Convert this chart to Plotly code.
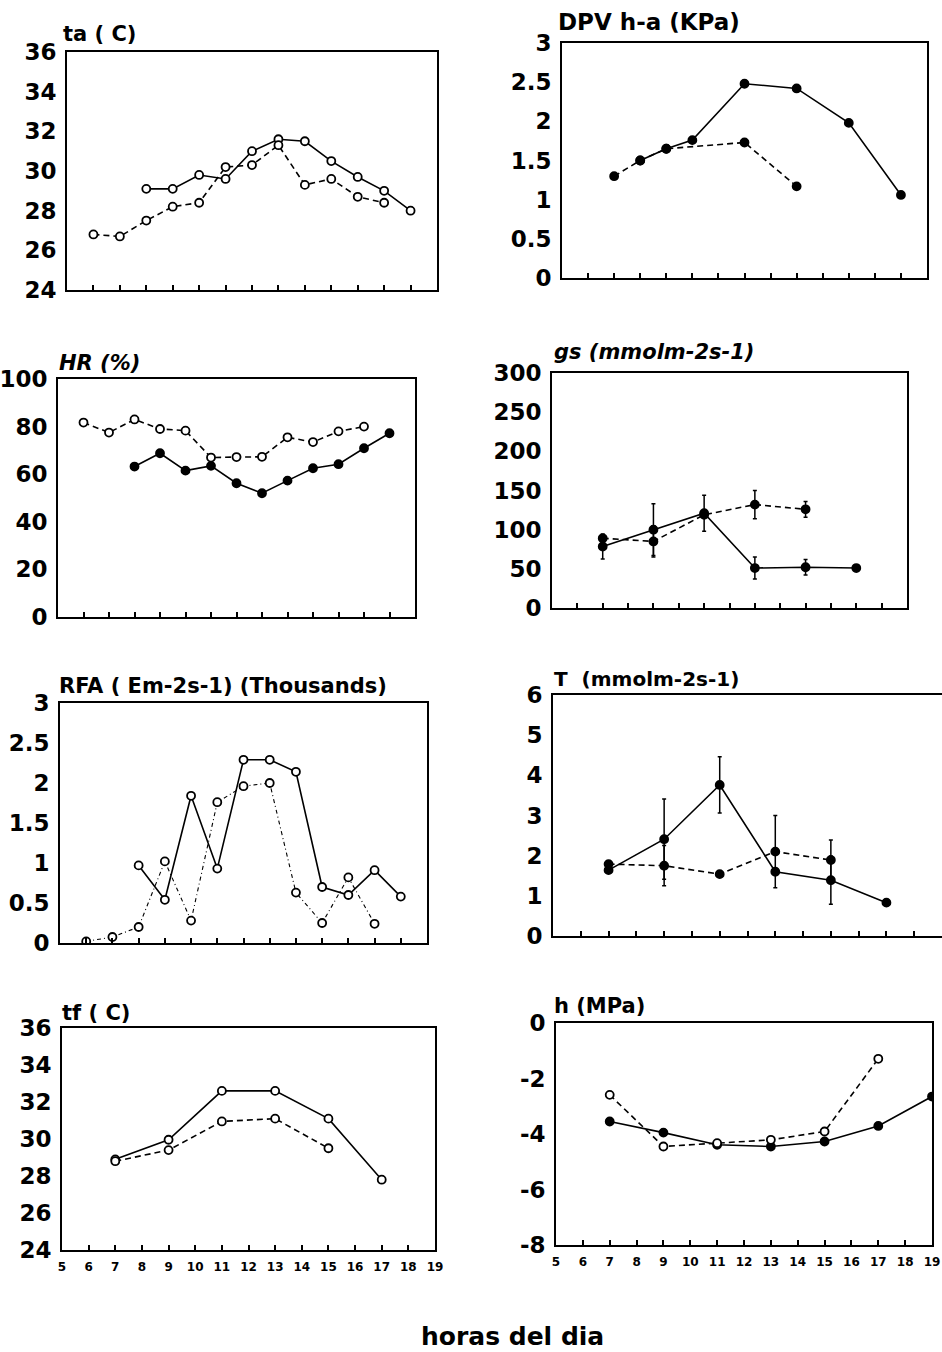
import plotly.graph_objects as go

W, H = 942, 1352

# ---------------- data ----------------
hours = list(range(5, 20))

ta_solid_x = [8, 9, 10, 11, 12, 13, 14, 15, 16, 17, 18]
ta_solid_y = [29.1, 29.1, 29.8, 29.6, 31.0, 31.6, 31.5, 30.5, 29.7, 29.0, 28.0]
ta_dash_x = [6, 7, 8, 9, 10, 11, 12, 13, 14, 15, 16, 17]
ta_dash_y = [26.8, 26.7, 27.5, 28.2, 28.4, 30.2, 30.3, 31.3, 29.3, 29.6, 28.7, 28.4]

dpv_solid_x = [8, 9, 10, 12, 14, 16, 18]
dpv_solid_y = [1.5, 1.65, 1.76, 2.48, 2.42, 1.98, 1.06]
dpv_dash_x = [7, 8, 9, 12, 14]
dpv_dash_y = [1.3, 1.5, 1.65, 1.73, 1.17]

hr_solid_x = [8, 9, 10, 11, 12, 13, 14, 15, 16, 17, 18]
hr_solid_y = [63.2, 68.8, 61.5, 63.5, 56.2, 52.0, 57.3, 62.5, 64.2, 70.9, 77.2]
hr_dash_x = [6, 7, 8, 9, 10, 11, 12, 13, 14, 15, 16, 17]
hr_dash_y = [81.7, 77.5, 83.0, 79.0, 78.3, 67.0, 67.2, 67.3, 75.5, 73.5, 78.0, 80.0]

gs_solid_x = [7, 9, 11, 13, 15, 17]
gs_solid_y = [78.5, 100, 121, 51, 52, 51]
gs_solid_err = [16, 33, 23, 14, 10, 0]
gs_dash_x = [7, 9, 11, 13, 15]
gs_dash_y = [89, 85, 119, 132, 126]
gs_dash_err = [0, 20, 0, 18, 10]

rfa_solid_x = [8, 9, 10, 11, 12, 13, 14, 15, 16, 17, 18]
rfa_solid_y = [0.97, 0.54, 1.84, 0.93, 2.29, 2.29, 2.14, 0.70, 0.60, 0.91, 0.58]
rfa_dash_x = [6, 7, 8, 9, 10, 11, 12, 13, 14, 15, 16, 17]
rfa_dash_y = [0.02, 0.075, 0.2, 1.02, 0.28, 1.76, 1.96, 2.0, 0.63, 0.25, 0.82, 0.24]

t_solid_x = [7, 9, 11, 13, 15, 17]
t_solid_y = [1.64, 2.41, 3.76, 1.60, 1.39, 0.83]
t_solid_err = [0, 1.0, 0.7, 0, 0.6, 0]
t_dash_x = [7, 9, 11, 13, 15]
t_dash_y = [1.79, 1.75, 1.54, 2.10, 1.89]
t_dash_err = [0, 0.5, 0, 0.9, 0.5]

tf_solid_x = [7, 9, 11, 13, 15, 17]
tf_solid_y = [28.9, 29.96, 32.6, 32.6, 31.1, 27.8]
tf_dash_x = [7, 9, 11, 13, 15]
tf_dash_y = [28.8, 29.4, 30.95, 31.1, 29.5]

h_solid_x = [7, 9, 11, 13, 15, 17, 19]
h_solid_y = [-3.55, -3.95, -4.39, -4.45, -4.27, -3.71, -2.65]
h_dash_x = [7, 9, 11, 13, 15, 17]
h_dash_y = [-2.59, -4.45, -4.33, -4.21, -3.91, -1.29]

# ---------------- helpers ----------------
FONT = "DejaVu Sans"

def px_x(v):
    return v / W

def px_y(v):
    return 1 - v / H

fig = go.Figure()

panels = [
    dict(title="ta ( C)", box=(67, 437, 52, 290), yr=(24, 36), yt=[24, 26, 28, 30, 32, 34, 36], xl=False, tpos=(61, 48), tsize=21),
    dict(title="DPV h-a (KPa)", box=(562, 927, 43, 278), yr=(0, 3), yt=[0, 0.5, 1, 1.5, 2, 2.5, 3], xl=False, tpos=(556, 37), tsize=23),
    dict(title="<i>HR (%)</i>", box=(58, 415, 379, 617), yr=(0, 100), yt=[0, 20, 40, 60, 80, 100], xl=False, tpos=(57, 377), tsize=21),
    dict(title="<i>gs (mmolm-2s-1)</i>", box=(552, 907, 373, 608), yr=(0, 300), yt=[0, 50, 100, 150, 200, 250, 300], xl=False, tpos=(552, 366), tsize=21),
    dict(title="RFA ( Em-2s-1) (Thousands)", box=(60, 427, 703, 943), yr=(0, 3), yt=[0, 0.5, 1, 1.5, 2, 2.5, 3], xl=False, tpos=(57, 700), tsize=21),
    dict(title="T  (mmolm-2s-1)", box=(553, 942, 695, 936), yr=(0, 6), yt=[0, 1, 2, 3, 4, 5, 6], xl=False, tpos=(552, 693), tsize=20),
    dict(title="tf ( C)", box=(62, 435, 1028, 1250), yr=(24, 36), yt=[24, 26, 28, 30, 32, 34, 36], xl=True, tpos=(60, 1027), tsize=21),
    dict(title="h (MPa)", box=(556, 932, 1023, 1245), yr=(-8, 0), yt=[-8, -6, -4, -2, 0], xl=True, tpos=(552, 1020), tsize=21),
]

series = [
    [(ta_solid_x, ta_solid_y, None, "solid"), (ta_dash_x, ta_dash_y, None, "dash")],
    [(dpv_solid_x, dpv_solid_y, None, "solid"), (dpv_dash_x, dpv_dash_y, None, "dash")],
    [(hr_solid_x, hr_solid_y, None, "solid"), (hr_dash_x, hr_dash_y, None, "dash")],
    [(gs_solid_x, gs_solid_y, gs_solid_err, "solid"), (gs_dash_x, gs_dash_y, gs_dash_err, "dash")],
    [(rfa_solid_x, rfa_solid_y, None, "solid"), (rfa_dash_x, rfa_dash_y, None, "dashdot")],
    [(t_solid_x, t_solid_y, t_solid_err, "solid"), (t_dash_x, t_dash_y, t_dash_err, "dash")],
    [(tf_solid_x, tf_solid_y, None, "solid"), (tf_dash_x, tf_dash_y, None, "dash")],
    [(h_solid_x, h_solid_y, None, "solid"), (h_dash_x, h_dash_y, None, "dash")],
]

# marker fill: True = filled black, False = open (white fill)
filled = {
    0: (False, False),
    1: (True, True),
    2: (True, False),
    3: (True, True),
    4: (False, False),
    5: (True, True),
    6: (False, False),
    7: (True, False),
}

DASHES = {"solid": "solid", "dash": "6px,4px", "dashdot": "4px,3px,1px,3px"}

layout_axes = {}
for i, p in enumerate(panels):
    n = i + 1
    sfx = "" if n == 1 else str(n)
    l, r, t, b = p["box"]
    layout_axes["xaxis" + sfx] = dict(
        domain=[px_x(l), min(px_x(r), 1.0)], range=[5, 19], anchor="y" + sfx,
        tickmode="array", tickvals=hours, ticktext=[str(h) for h in hours],
        showticklabels=p["xl"], ticks="inside", ticklen=5, tickwidth=1.5, tickcolor="black",
        showline=True, linecolor="black", linewidth=1.6, mirror=True,
        showgrid=False, zeroline=False, automargin=False, ticklabelstandoff=5,
        tickfont=dict(family=FONT, size=12, color="black", weight="bold"),
    )
    layout_axes["yaxis" + sfx] = dict(
        domain=[px_y(b), px_y(t)], range=list(p["yr"]), anchor="x" + sfx,
        tickmode="array", tickvals=p["yt"], ticktext=["%g" % v for v in p["yt"]],
        ticks="", showline=True, linecolor="black", linewidth=1.6, mirror=True,
        showgrid=False, zeroline=False, automargin=False, ticklabelstandoff=4,
        tickfont=dict(family=FONT, size=23, color="black", weight="bold"),
    )
    for j, (xs, ys, err, dash) in enumerate(series[i]):
        fill = filled[i][j]
        tr = dict(
            x=xs, y=ys, mode="lines+markers",
            line=dict(color="black", width=1.6 if dash != "dashdot" else 1.1, dash=DASHES[dash]),
            marker=dict(symbol="circle", size=8, color="black" if fill else "white",
                        line=dict(color="black", width=1.8)),
            showlegend=False, xaxis="x" + sfx, yaxis="y" + sfx, hoverinfo="skip",
        )
        if err is not None:
            tr["error_y"] = dict(type="data", array=err, visible=True, color="black", thickness=1.5, width=2)
        fig.add_trace(go.Scatter(**tr))

annotations = []
for p in panels:
    x, yb = p["tpos"]
    annotations.append(dict(
        text=p["title"], x=px_x(x), y=px_y(yb), xref="paper", yref="paper",
        xanchor="left", yanchor="bottom", showarrow=False,
        font=dict(family=FONT, size=p["tsize"], color="black", weight="bold"),
    ))
annotations.append(dict(
    text="horas del dia", x=px_x(512), y=px_y(1336), xref="paper", yref="paper",
    xanchor="center", yanchor="middle", showarrow=False,
    font=dict(family=FONT, size=25, color="black", weight="bold"),
))

fig.update_layout(
    template="none",
    width=W, height=H, margin=dict(l=0, r=0, t=0, b=0, pad=0),
    paper_bgcolor="white", plot_bgcolor="white",
    annotations=annotations, **layout_axes,
)

fig.write_html(
    "out.html",
    config={"displayModeBar": False},
    post_script="document.body.style.margin='0';document.body.style.overflow='hidden';",
)
